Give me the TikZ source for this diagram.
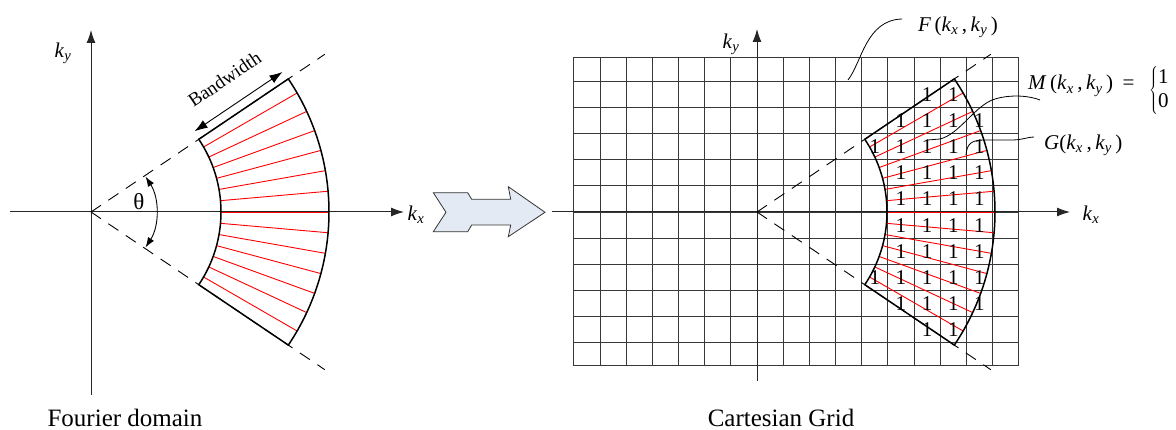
\documentclass[tikz,border=0pt]{standalone}
\usepackage{fontspec}
\setmainfont{Liberation Serif}
\newfontfamily\tms{Liberation Serif}
\usetikzlibrary{arrows.meta,calc}
\definecolor{arrowfill}{HTML}{E3EAF4}
\newcommand\kv[1]{\textit{k}\textsubscript{\textit{#1}}}
\newcommand\drawsector[1]{%
  \draw[dsh] (#1) -- ($(#1)+(34:282)$);
  \draw[dsh] (#1) -- ($(#1)+(-34:282)$);
  \foreach \a in {-30,-25,...,30} \draw[redl] ($(#1)+(\a:130)$) -- ($(#1)+(\a:238)$);
  \draw[bandline] ($(#1)+(34:130)$) arc[start angle=34,end angle=-34,radius=130]
     -- ($(#1)+(-34:238)$) arc[start angle=-34,end angle=34,radius=238] -- cycle;
}
\tikzset{
 ax/.style={line width=1pt, draw=black!85, -{Latex[length=13pt,width=9pt]}},
 dsh/.style={line width=0.9pt, dash pattern=on 12pt off 9pt},
 bandline/.style={line width=1.5pt, line join=miter},
 redl/.style={draw=red, line width=0.9pt},
 lbl/.style={font=\tms\fontsize{21}{25}\selectfont, inner sep=0pt},
 capt/.style={font=\tms\fontsize{25}{30}\selectfont, inner sep=0pt, anchor=base},
 one/.style={font=\tms\fontsize{21}{24}\selectfont, inner sep=0pt},
 gl/.style={draw=black!78, line width=0.8pt},
 lead/.style={line width=0.8pt},
 dbl/.style={line width=0.9pt, {Latex[length=13pt,width=9pt]}-{Latex[length=13pt,width=9pt]}},
}
\begin{document}
\begin{tikzpicture}[x=1pt,y=1pt]
\useasboundingbox (0,0) rectangle (1176,430);

% ---------- left panel ----------
\coordinate (O1) at (91,218);
\coordinate (L-xs) at (10,218); \coordinate (L-xe) at (404,218);
\coordinate (L-ys) at (91,35);  \coordinate (L-ye) at (91,400);
\draw[ax] (L-xs) -- (L-xe);
\draw[ax] (L-ys) -- (L-ye);
\node[lbl] (L-kx) at (416,215) {\kv{x}};
\node[lbl] (L-ky) at (63,377) {\kv{y}};
\drawsector{O1}
\draw[line width=0.9pt, {Latex[length=10pt,width=7pt]}-{Latex[length=10pt,width=7pt]}]
  ($(O1)+(33:65)$) arc[start angle=33,end angle=-33,radius=65];
\node[font=\tms\fontsize{23}{27}\selectfont, inner sep=0pt] (theta) at (139,228) {θ};
\coordinate (bw1) at ($(O1)+(34:131)+(124:9)$);
\coordinate (bw2) at ($(O1)+(34:237)+(124:9)$);
\draw[dbl] (bw1) -- (bw2);
\node[font=\tms\fontsize{19}{23}\selectfont, rotate=34, anchor=base, inner sep=0pt] (bw)
  at ($(O1)+(34:185)+(124:29)$) {Bandwidth};
\node[capt] (capL) at (125,3.5) {Fourier domain};

% ---------- block arrow ----------
\draw[fill=arrowfill, draw=black!80, line width=0.8pt, line join=miter]
  (433.3,237.3) -- (467.7,237.3) -- (471.7,230.7) -- (510.7,230.7) -- (508.3,243.3)
  -- (545,217.7) -- (508.3,193.3) -- (510.7,205) -- (471.7,205) -- (467.7,198.3)
  -- (433.3,198.3) -- (446,217.7) -- cycle;

% ---------- right panel ----------
\coordinate (O2) at (757,218);
\foreach \i in {-7,...,10} \draw[gl] ({757+\i*26.17},65) -- ({757+\i*26.17},372.7);
\foreach \j in {-5,...,5} \draw[gl] (573.8,{218+\j*26.17}) -- (1018.7,{218+\j*26.17});
\draw[gl] (573.8,65) rectangle (1018.7,372.7);
\coordinate (R-xs) at (551.7,218); \coordinate (R-xe) at (1070,218);
\coordinate (R-ys) at (757,49);    \coordinate (R-ye) at (757,401);
\draw[ax] (R-xs) -- (R-xe);
\draw[ax] (R-ys) -- (R-ye);
\node[lbl] (R-kx) at (1091,215) {\kv{x}};
\node[lbl] (R-ky) at (731,386) {\kv{y}};
\drawsector{O2}
\foreach \j/\cs in {4/{6,7}, 3/{5,6,7,8}, 2/{4,5,6,7,8}, 1/{5,6,7,8}, 0/{5,6,7,8},
                    -1/{5,6,7,8}, -2/{5,6,7,8}, -3/{4,5,6,7,8}, -4/{5,6,7,8}, -5/{6,7}} {
  \foreach \c in \cs {
    \node[one] (one-\c-\j) at ({757+(\c+0.5)*26.17},{218+(\j+0.5)*26.17}) {1};
  }
}

% labels and leaders
\node[lbl] (F) at (958,403) {\textit{F}\,(\kv{x}\,,\,\kv{y}\,)};
\coordinate (Fa) at (848,350); \coordinate (Fb) at (902,411);
\draw[lead] (Fa) .. controls (862,368) and (866,410) .. (Fb);

\node[lbl, anchor=base west] (M) at (1028,340) {\textit{M}\,(\kv{x}\,,\,\kv{y}\,)\;\,=};
\node[lbl, anchor=west] (Mc) at (1149,339)
  {$\left\{\begin{array}{@{}l@{}}\mbox{\tms 1}\\[-1pt]\mbox{\tms 0}\end{array}\right.$};
\coordinate (Ma) at (928,290); \coordinate (Mb) at (1040,330);
\draw[lead] (Ma) -- (940,291) .. controls (960,296) and (975,325) .. (995,331)
  .. controls (1012,336) and (1030,334) .. (Mb);

\node[lbl, anchor=west] (G) at (1044,285) {\textit{G}(\kv{x}\,,\,\kv{y}\,)};
\coordinate (Ga) at (966,275); \coordinate (Gb) at (1034,293);
\draw[lead] (Ga) .. controls (967,287) and (972,290) .. (985,290) -- (1012,290)
  .. controls (1022,290) and (1028,293) .. (Gb);

\node[capt] (capR) at (781,3.5) {Cartesian Grid};
\end{tikzpicture}
\end{document}
